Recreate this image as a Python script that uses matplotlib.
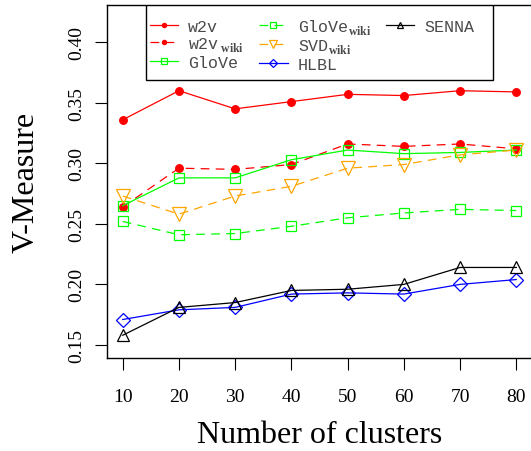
import matplotlib
matplotlib.use("Agg")
import matplotlib.pyplot as plt
from matplotlib.lines import Line2D
from matplotlib.patches import Rectangle

clusters = [10, 20, 30, 40, 50, 60, 70, 80]
w2v = [0.336, 0.360, 0.345, 0.351, 0.357, 0.356, 0.360, 0.359]
w2v_wiki = [0.264, 0.296, 0.295, 0.299, 0.316, 0.314, 0.316, 0.312]
glove = [0.265, 0.288, 0.288, 0.303, 0.311, 0.308, 0.309, 0.311]
glove_wiki = [0.252, 0.241, 0.242, 0.248, 0.255, 0.259, 0.262, 0.261]
svd_wiki = [0.273, 0.258, 0.273, 0.281, 0.296, 0.299, 0.307, 0.311]
hlbl = [0.171, 0.179, 0.181, 0.192, 0.193, 0.192, 0.200, 0.204]
senna = [0.158, 0.181, 0.185, 0.195, 0.196, 0.200, 0.214, 0.214]

yticks = [0.15, 0.20, 0.25, 0.30, 0.35, 0.40]
ytick_labels = ["0.15", "0.20", "0.25", "0.30", "0.35", "0.40"]

plt.rcParams["mathtext.fontset"] = "custom"
plt.rcParams["mathtext.rm"] = "Liberation Serif"
plt.rcParams["mathtext.bf"] = "Liberation Serif:bold"

fig = plt.figure(figsize=(5.31, 4.52), dpi=100)
ax = fig.add_axes([107 / 531, 1 - 359 / 452, 425 / 531, 353 / 452])

dash = (0, (7, 5))
RED, GREEN, ORANGE, BLUE = "#FF0000", "#00FF00", "#FFA500", "#0000FF"

series = [
    (w2v, "w2v", RED, "-", "o", True, 5.5),
    (w2v_wiki, "w2v$\\,_{\\mathbf{wiki}}$", RED, dash, "o", True, 5.5),
    (glove, "GloVe", GREEN, "-", "s", False, 7),
    (glove_wiki, "GloVe$_{\\mathbf{wiki}}$", GREEN, dash, "s", False, 7),
    (svd_wiki, "SVD$_{\\mathbf{wiki}}$", ORANGE, dash, "v", False, 10),
    (hlbl, "HLBL", BLUE, "-", "D", False, 7),
    (senna, "SENNA", "#000000", "-", "^", False, 9),
]

handles = []
for vals, lab, col, ls, mk, filled, ms in series:
    h, = ax.plot(clusters, vals, color=col, linestyle=ls, linewidth=0.9,
                 marker=mk, markersize=ms, markeredgewidth=0.9,
                 markerfacecolor=col if filled else "none",
                 markeredgecolor=col, label=lab)
    handles.append(h)

ax.set_xlim(7.2, 82.8)
ax.set_ylim(0.1392, 0.4308)
ax.set_xticks(clusters)
ax.set_xticklabels([str(c) for c in clusters], fontsize=14, family="Liberation Serif")
ax.set_yticks(yticks)
ax.set_yticklabels(ytick_labels, fontsize=14, family="Liberation Serif",
                   rotation=90, va="center")
ax.tick_params(axis="both", length=8.6, width=0.8, direction="out")
ax.tick_params(axis="y", pad=7)
ax.tick_params(axis="x", pad=13)
for s in ax.spines.values():
    s.set_linewidth(1.0)

ax.set_xlabel("Number of clusters", fontsize=23, family="Liberation Serif", labelpad=11)
ax.set_ylabel("V-Measure", fontsize=23, family="Liberation Serif", labelpad=20)

# legend frame (R-style box at top)
ax.add_patch(Rectangle((39 / 425, 1 - 75 / 353), 347 / 425, 75 / 353,
                       transform=ax.transAxes, facecolor="white",
                       edgecolor="black", linewidth=1.0, zorder=4))

blank = Line2D([], [], linestyle="none", marker=None)
leg_handles = handles[:6] + [handles[6], blank, blank]
leg_labels = [h.get_label() for h in handles[:6]] + [handles[6].get_label(), "", ""]
leg = ax.legend(leg_handles, leg_labels, ncol=3, loc="upper left",
                bbox_to_anchor=(43 / 425, 1 - 12 / 353), frameon=False,
                prop={"family": "Liberation Mono", "size": 12},
                markerscale=0.55, handlelength=1.7, handletextpad=0.6,
                columnspacing=0.9, labelspacing=0.08, borderpad=0.0,
                borderaxespad=0.0)
leg.set_zorder(5)
for t in leg.get_texts():
    t.set_color("#4a4a4a")

fig.savefig("out.png", dpi=100)
